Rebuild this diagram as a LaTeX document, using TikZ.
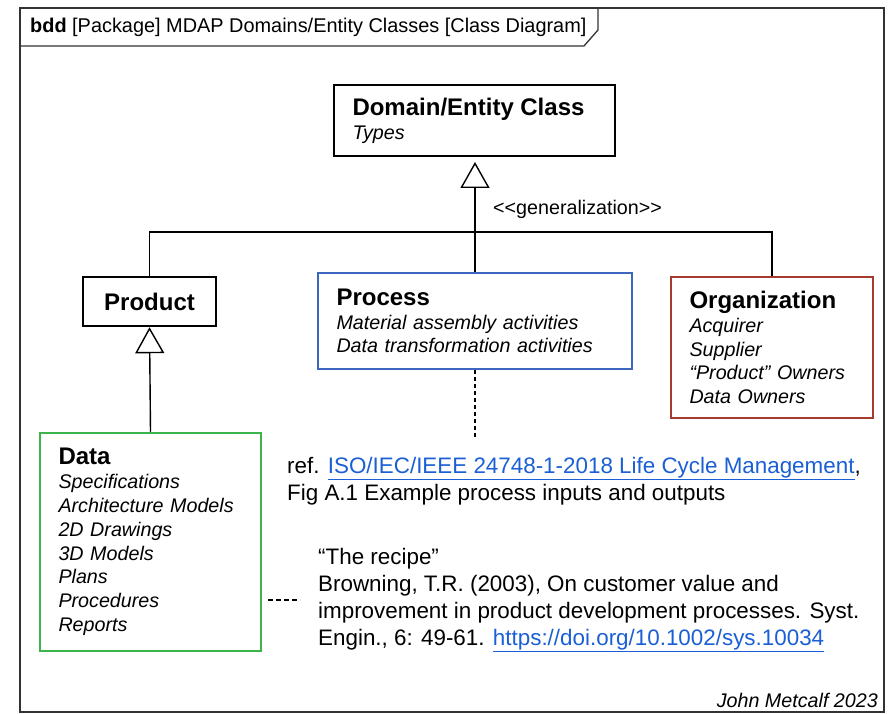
\documentclass[tikz,border=0pt]{standalone}
\usepackage{fontspec}
\setmainfont{Liberation Sans}
\usetikzlibrary{arrows.meta}
\definecolor{procblue}{HTML}{3D67BF}
\definecolor{orgred}{HTML}{A63A2E}
\definecolor{datagreen}{HTML}{3CB44B}
\definecolor{linkblue}{HTML}{1A5FD6}
\newcommand\lnk[1]{\textcolor{linkblue}{\underline{#1}}}
\newcommand\clsttl{\fontsize{24}{24}\selectfont\bfseries\upshape}
\begin{document}
\begin{tikzpicture}[x=1pt,y=-1pt,
  classbox/.style={draw=black, line width=2.5pt, inner xsep=18.5pt, inner ysep=0pt, align=left,
    font=\fontsize{19.7}{23.8}\selectfont\itshape},
  conn/.style={draw=black, line width=1.4pt},
  gen/.style={conn, -{Triangle[open, length=26pt, width=29pt, line width=1.4pt]}},
  dep/.style={draw=black, line width=1.3pt, dash pattern=on 4pt off 3pt},
  plain/.style={inner sep=0pt, align=left, font=\fontsize{22.4}{27}\selectfont}]
\useasboundingbox (0,0) rectangle (889,714);

% frame and title tab
\draw[line width=1.5pt, draw=black!80] (20,8) rectangle (884,712);
\draw[line width=1.3pt, draw=black!80] (20,46) -- (584,46) -- (598,30) -- (598,8);
\node[anchor=base west, inner sep=0pt, font=\fontsize{19.9}{23}\selectfont] (title) at (30,33)
  {\textbf{bdd} [Package] MDAP Domains/Entity Classes [Class Diagram]};

% classes
\node[classbox, text width=244pt, minimum width=281pt, minimum height=71pt] (domain) at (474.5,120.5)
  {{\clsttl Domain/Entity Class}\\Types};
\node[classbox, align=center, inner xsep=0pt, minimum width=133pt, minimum height=49pt] (product) at (149.5,301.5)
  {\clsttl Product};
\node[classbox, draw=procblue, text width=277pt, minimum width=314pt, minimum height=96pt] (process) at (475,321)
  {{\clsttl Process}\\Material assembly activities\\Data transformation activities};
\node[classbox, draw=orgred, text width=165pt, minimum width=202pt, minimum height=141pt] (org) at (772,347.5)
  {{\clsttl Organization}\\Acquirer\\Supplier\\“Product” Owners\\Data Owners};
\node[classbox, draw=datagreen, text width=184pt, minimum width=221pt, minimum height=218pt] (data) at (150.5,542)
  {{\clsttl Data}\\Specifications\\Architecture Models\\2D Drawings\\3D Models\\Plans\\Procedures\\Reports};

% generalizations
\coordinate (apex) at (475,162);
\coordinate (bar) at (475,232);
\draw[gen] (process.north) -- (apex);
\draw[conn] (product.north) |- (bar) -| (org.north);
\draw[gen] (data.north) -- (product.south);
\node[anchor=base west, inner sep=0pt, font=\fontsize{19.7}{23}\selectfont] (genlabel) at (493,215)
  {<\kern0pt<generalization>\kern0pt>};

% references
\coordinate (refend) at (475,440);
\draw[dep] (process.south) -- (refend);
\node[plain, anchor=north west] (ref) at (287,457)
  {ref. \lnk{ISO/IEC/IEEE 24748-1-2018 Life Cycle Management},\\Fig A.1 Example process inputs and outputs};

\coordinate (rdA) at (268,600);
\coordinate (rdB) at (300,600);
\draw[dep, dash pattern=on 5pt off 3pt] (rdA) -- (rdB);
\node[plain, anchor=north west] (recipe) at (318,548)
  {“The recipe”\\Browning, T.R. (2003), On customer value and\\improvement in product development processes. Syst.\\Engin., 6: 49-61. \lnk{https://doi.org/10.1002/sys.10034}};

\node[anchor=base east, inner sep=0pt, font=\fontsize{19.7}{23}\selectfont\itshape] (author) at (878,707)
  {John Metcalf 2023};
\end{tikzpicture}
\end{document}
